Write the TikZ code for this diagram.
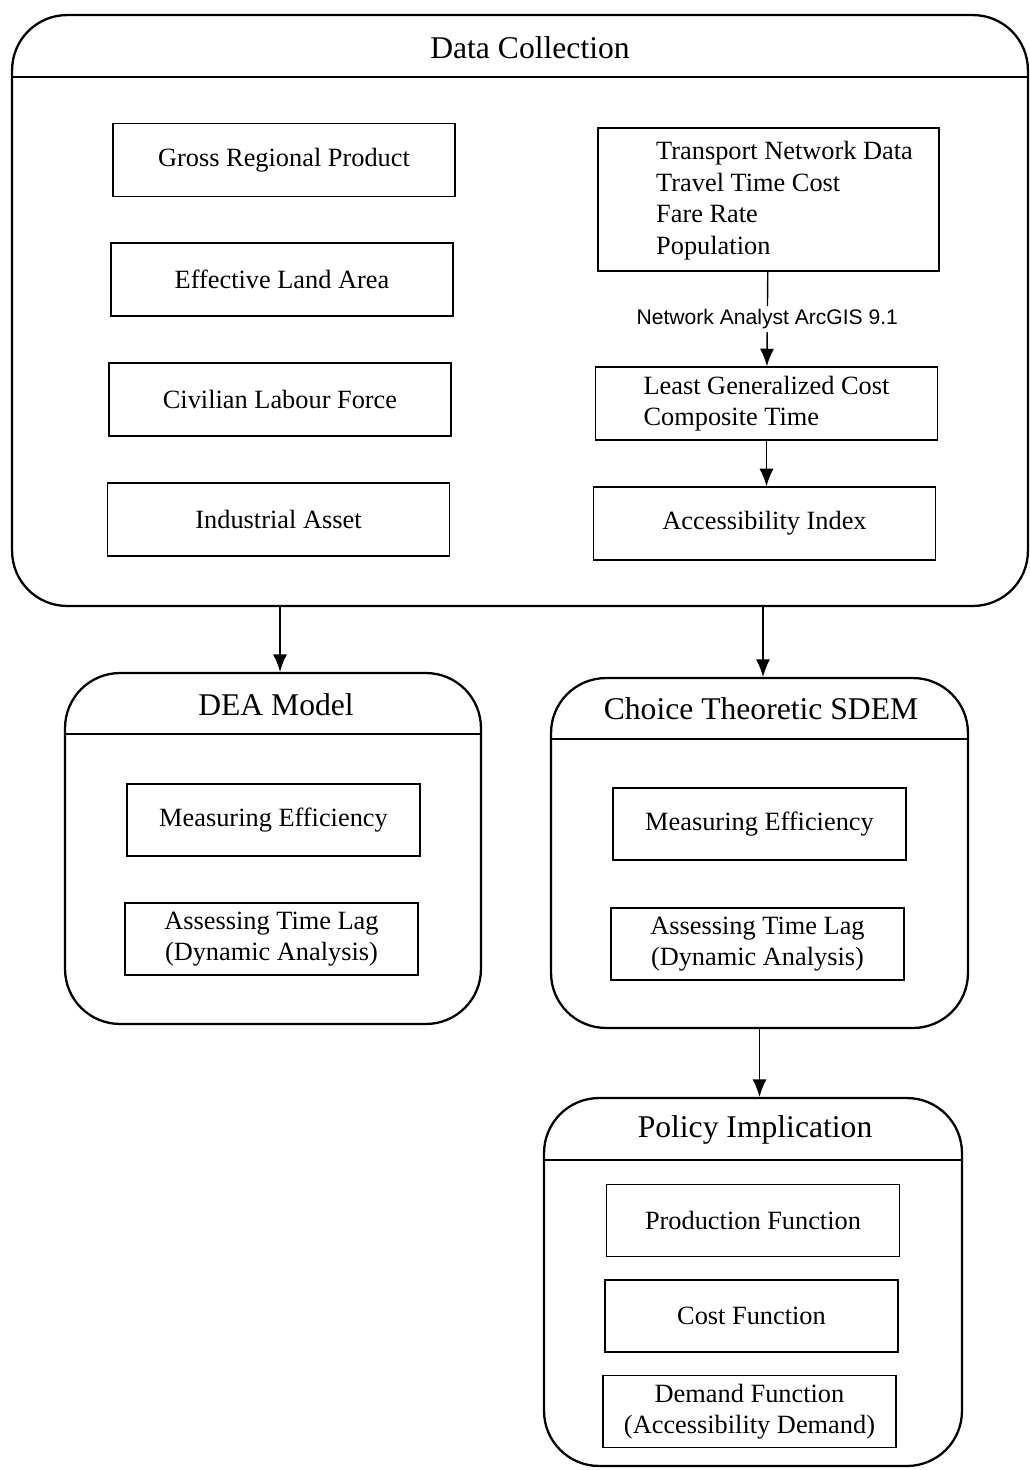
\documentclass[tikz,border=0pt]{standalone}
\usepackage{fontspec}
\setmainfont{Liberation Serif}
\newfontfamily\arialfont{Liberation Sans}
\usetikzlibrary{arrows.meta}
\begin{document}
\begin{tikzpicture}[x=0.02cm,y=-0.02cm,>={Latex[length=10pt,width=8pt]},
box/.style={draw,line width=0.8pt,minimum width=6.84cm,minimum height=1.46cm,font=\fontsize{15}{18}\selectfont},
sbox/.style={box,minimum width=5.86cm,minimum height=1.44cm,align=center},
panel/.style={draw,line width=1.3pt,rounded corners=1.1cm},
title/.style={font=\fontsize{18}{22}\selectfont},
lbl/.style={fill=white,font=\arialfont\fontsize{12}{14}\selectfont,inner sep=2pt}]
\useasboundingbox(0,0)rectangle(1029,1470);
\node[panel,minimum width=20.32cm,minimum height=11.82cm](dc)at(520,310.5){};
\path(0,77)coordinate(h1)(0,734)coordinate(h2)(0,739)coordinate(h3)(0,1160)coordinate(h4);
\draw[line width=1.3pt](dc.west|-h1)--(dc.east|-h1);
\node[title](dct)at(530,48){Data Collection};
\node[box](grp)at(284,160){Gross Regional Product};
\node[box](ela)at(282,279.5){Effective Land Area};
\node[box](clf)at(280,399.5){Civilian Labour Force};
\node[box](ia)at(278.5,519.5){Industrial Asset};
\node[box,minimum width=6.82cm,minimum height=2.86cm](tnd)at(768.5,199.5){};
\node[align=left,anchor=west,font=\fontsize{15}{18}\selectfont](tndt)at(650,200.5){Transport Network Data\\Travel Time Cost\\Fare Rate\\Population};
\node[box,align=left](lgc)at(766.5,403.5){Least Generalized Cost\\Composite Time};
\node[box](ai)at(764.5,523.5){Accessibility Index};
\draw[->,line width=0.8pt](tnd)--node[lbl](na){Network Analyst ArcGIS 9.1}(lgc);
\draw[->,line width=0.8pt](lgc.south)--(lgc.south|-ai.north);
\node[panel,minimum width=8.32cm,minimum height=7.02cm](dea)at(273,848.5){};
\draw[line width=1.3pt](dea.west|-h2)--(dea.east|-h2);
\node[title](deat)at(276,705){DEA Model};
\node[sbox](me1)at(273.5,820){Measuring Efficiency};
\node[sbox](atl1)at(271.5,939){Assessing Time Lag\\(Dynamic Analysis)};
\node[panel,minimum width=8.34cm,minimum height=7cm](sdem)at(759.5,853){};
\draw[line width=1.3pt](sdem.west|-h3)--(sdem.east|-h3);
\node[title](sdemt)at(761,709){Choice Theoretic SDEM};
\node[sbox](me2)at(759.5,824){Measuring Efficiency};
\node[sbox](atl2)at(757.5,944){Assessing Time Lag\\(Dynamic Analysis)};
\node[panel,minimum width=8.36cm,minimum height=7.36cm](pi)at(753,1282){};
\draw[line width=1.3pt](pi.west|-h4)--(pi.east|-h4);
\node[title](pit)at(755,1130){Policy Implication};
\node[sbox](pf)at(753,1220.5){Production Function};
\node[sbox](cf)at(751.5,1316){Cost Function};
\node[sbox](df)at(749.5,1411.5){Demand Function\\(Accessibility Demand)};
\draw[->,line width=0.8pt]([xshift=0.14cm]dea.north|-dc.south)--([xshift=0.14cm]dea.north);
\draw[->,line width=0.8pt]([xshift=0.07cm]sdem.north|-dc.south)--([xshift=0.07cm]sdem.north);
\draw[->,line width=0.8pt](sdem.south)--(sdem.south|-pi.north);
\end{tikzpicture}
\end{document}
